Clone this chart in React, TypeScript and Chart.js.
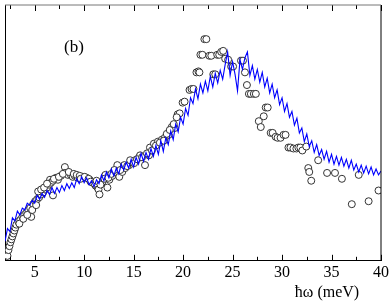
import React, { useEffect, useRef } from 'react';
import { Chart, registerables } from 'chart.js';

Chart.register(...registerables);

const W = 391;
const H = 303;

// Model spectrum (blue line): regular energy grid, intensities
const LINE_START = 2;
const LINE_STEP = 0.25;
const lineIntensity = [
  20, 33, 30, 44, 41, 51, 47, 54, 52, 59,
  57, 62, 59, 67, 63, 69, 65, 72, 68, 75,
  69, 75, 70, 77, 72, 79, 74, 80, 75, 84,
  79, 86, 80, 85, 78, 82, 76, 83, 79, 88,
  82, 91, 85, 94, 87, 95, 89, 99, 93, 101,
  95, 104, 96, 106, 99, 110, 102, 111, 104, 115,
  107, 118, 109, 123, 112, 126, 119, 133, 124, 140,
  132, 147, 140, 156, 149, 167, 161, 176, 166, 181,
  172, 184, 174, 189, 178, 192, 182, 195, 186, 201,
  214, 190, 204, 191, 174, 206, 196, 208, 214, 190,
  200, 186, 196, 183, 193, 178, 187, 172, 181, 167,
  175, 160, 167, 153, 161, 147, 153, 139, 146, 131,
  136, 122, 130, 117, 123, 111, 119, 108, 114, 104,
  112, 101, 109, 99, 107, 98, 106, 97, 104, 95,
  103, 93, 99, 91, 98, 90, 97, 89, 96, 88,
  94, 88, 92,
];

// Experimental points (open circles)
const circleEnergy = [
  2.25, 2.35, 2.45, 2.55, 2.65, 2.75, 2.85, 2.95, 3.05, 3.15,
  3.35, 3.55, 3.75, 3.95, 4.15, 4.35, 4.55, 4.65, 4.85, 5.05,
  5.25, 5.45, 5.65, 5.85, 6.05, 6.25, 6.45, 6.55, 6.65, 6.85,
  6.85, 7.15, 7.35, 7.65, 8.05, 8.05, 8.35, 8.65, 8.85, 9.05,
  9.35, 9.85, 10.25, 10.55, 10.85, 11.15, 11.35, 11.45, 11.55, 11.85,
  12.15, 12.35, 12.55, 12.85, 13.15, 13.35, 13.55, 13.85, 14.15, 14.55,
  14.85, 15.15, 15.55, 15.65, 16.15, 16.55, 16.65, 17.05, 17.45, 17.85,
  18.15, 18.55, 18.85, 19.15, 19.45, 19.65, 19.95, 20.15, 20.65, 20.85,
  21.05, 21.35, 21.55, 21.65, 21.75, 21.95, 22.15, 22.35, 22.65, 22.85,
  23.05, 23.25, 23.45, 23.65, 23.85, 24.05, 24.25, 24.55, 24.85, 25.05,
  25.85, 26.05, 26.25, 26.45, 26.65, 26.85, 27.15, 27.35, 27.65, 27.85,
  28.15, 28.35, 28.55, 28.85, 29.05, 29.35, 29.55, 29.85, 30.15, 30.35,
  30.65, 30.85, 31.15, 31.45, 31.65, 31.85, 32.05, 32.45, 32.65, 32.75,
  32.95, 33.65, 34.55, 35.35, 36.05, 37.05, 37.75, 38.75, 39.75,
  3.45, 3.85, 4.25, 4.75, 5.15, 5.35, 5.65, 5.95, 6.25, 6.95,
  7.45, 7.85, 8.45, 8.95, 9.25, 9.55, 9.65, 10.05, 10.45, 10.65,
  11.05, 11.25, 11.65, 12.05, 12.45, 12.75, 13.05, 13.65, 14.05, 14.35,
  14.65, 15.05, 15.35, 15.85, 16.35, 16.85, 17.25, 17.65, 18.05, 18.35,
  18.65, 19.05, 19.35,
];
const circleIntensity = [
  5, 11, 15, 19, 22, 25, 28, 31, 34, 37,
  40, 42, 45, 47, 49, 52, 54, 45, 58, 61,
  63, 65, 68, 70, 73, 75, 78, 83, 80, 82,
  67, 85, 83, 87, 96, 90, 88, 88, 86, 87,
  85, 86, 85, 83, 80, 77, 75, 73, 68, 81,
  88, 75, 83, 87, 91, 98, 86, 91, 95, 98,
  101, 103, 106, 108, 98, 108, 116, 120, 122, 124,
  126, 129, 137, 136, 150, 151, 162, 163, 175, 176,
  176, 193, 194, 193, 211, 211, 227, 227, 210, 210,
  191, 191, 211, 211, 214, 215, 207, 206, 199, 199,
  205, 205, 193, 180, 171, 171, 171, 171, 143, 137,
  148, 157, 157, 131, 131, 127, 126, 126, 129, 129,
  116, 116, 115, 115, 116, 116, 113, 117, 95, 91,
  82, 103, 90, 90, 84, 58, 88, 61, 72,
  38, 43, 47, 52, 57, 71, 73, 75, 79, 84,
  86, 89, 91, 89, 88, 87, 84, 86, 84, 81,
  79, 82, 78, 84, 85, 89, 93, 93, 98, 97,
  103, 100, 104, 106, 110, 113, 118, 121, 123, 130,
  134, 140, 147,
];

const X_MIN = 2;
const X_MAX = 40;
const Y_MIN = 0;
const Y_MAX = 262;
const majorTicks = [5, 10, 15, 20, 25, 30, 35, 40];
const minorTicks = [2.5, 7.5, 12.5, 17.5, 22.5, 27.5, 32.5, 37.5];
const panelLabel = '(b)';
const xAxisTitle = 'ħω (meV)';

const SERIF = "'Liberation Serif', 'Times New Roman', serif";

const decorPlugin = {
  id: 'decor',
  afterDraw(chart: any) {
    const { ctx, chartArea: a, scales } = chart;
    const x = scales.x;
    ctx.save();
    ctx.lineWidth = 1;
    ctx.strokeStyle = '#000';
    const drawTick = (v: number, len: number) => {
      const px = Math.round(x.getPixelForValue(v)) + 0.5;
      ctx.beginPath();
      ctx.moveTo(px, a.bottom);
      ctx.lineTo(px, a.bottom - len);
      ctx.moveTo(px, a.top);
      ctx.lineTo(px, a.top + len);
      ctx.stroke();
    };
    majorTicks.forEach((v) => drawTick(v, 6));
    minorTicks.forEach((v) => drawTick(v, 4));
    // right border
    ctx.beginPath();
    ctx.moveTo(a.right, a.top);
    ctx.lineTo(a.right, a.bottom);
    ctx.stroke();
    // top border
    ctx.strokeStyle = '#777';
    ctx.beginPath();
    ctx.moveTo(a.left, a.top);
    ctx.lineTo(a.right, a.top);
    ctx.stroke();
    // texts
    ctx.fillStyle = '#000';
    ctx.font = `17px ${SERIF}`;
    ctx.textAlign = 'center';
    ctx.textBaseline = 'middle';
    ctx.fillText(panelLabel, a.left + 69, a.top + 43);
    ctx.font = `16px ${SERIF}`;
    ctx.fillText(xAxisTitle, a.left + 322, 293);
    ctx.restore();
  },
};

export default function App() {
  const ref = useRef<HTMLCanvasElement>(null);
  useEffect(() => {
    document.body.style.margin = '0';
    const lineData = lineIntensity.map((y, i) => ({ x: LINE_START + i * LINE_STEP, y }));
    const circleData = circleEnergy.map((x, i) => ({ x, y: circleIntensity[i] }));
    const chart = new Chart(ref.current as HTMLCanvasElement, {
      type: 'scatter',
      data: {
        datasets: [
          {
            type: 'line',
            data: lineData,
            borderColor: '#0000ff',
            borderWidth: 1.1,
            pointRadius: 0,
            tension: 0,
            fill: false,
            order: 0,
          } as any,
          {
            type: 'scatter',
            data: circleData,
            pointRadius: 3.5,
            pointBorderColor: '#333',
            pointBackgroundColor: '#fff',
            pointBorderWidth: 1,
            order: 1,
          } as any,
        ],
      },
      options: {
        responsive: false,
        animation: false,
        devicePixelRatio: 1,
        layout: { padding: { left: 1, right: 9, top: 1, bottom: 19 } },
        plugins: { legend: { display: false }, tooltip: { enabled: false } },
        scales: {
          x: {
            type: 'linear',
            min: X_MIN,
            max: X_MAX,
            afterBuildTicks: (scale: any) => {
              scale.ticks = majorTicks.map((v) => ({ value: v }));
            },
            ticks: {
              font: { family: SERIF, size: 16 },
              color: '#000',
              padding: 2,
              maxRotation: 0,
              autoSkip: false,
            },
            grid: { drawOnChartArea: false, drawTicks: false },
            border: { color: '#000', width: 1 },
          },
          y: {
            min: Y_MIN,
            max: Y_MAX,
            ticks: { display: false },
            grid: { drawOnChartArea: false, drawTicks: false },
            border: { color: '#000', width: 1 },
          },
        },
      } as any,
      plugins: [decorPlugin],
    });
    return () => chart.destroy();
  }, []);
  return (
    <div style={{ position: 'fixed', left: 0, top: 0, width: W, height: H, background: '#fff' }}>
      <canvas ref={ref} width={W} height={H} style={{ width: W, height: H, display: 'block' }} />
    </div>
  );
}
